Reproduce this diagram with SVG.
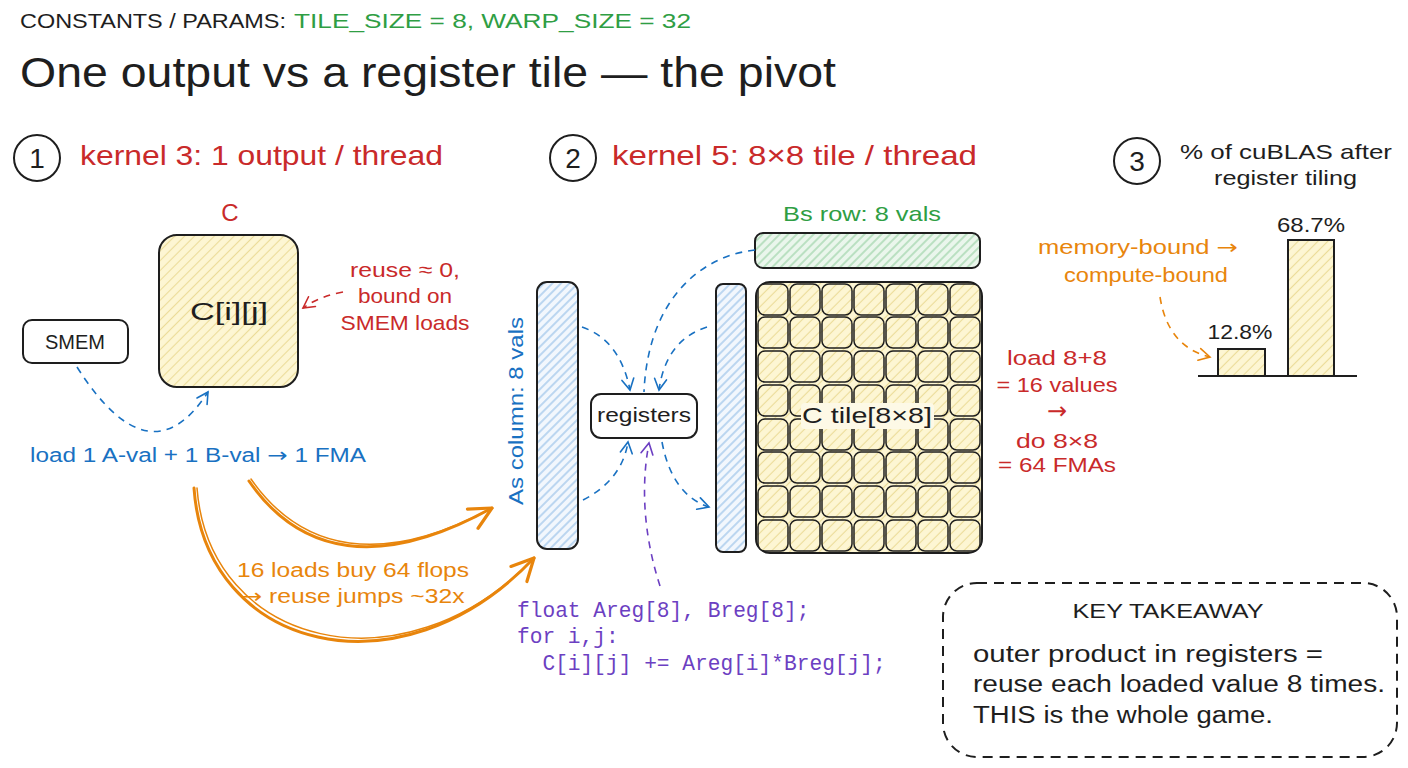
<svg xmlns="http://www.w3.org/2000/svg" width="1408" height="768" viewBox="0 0 1408 768">
<style>
  .t { font-family: "Liberation Sans", Arial, sans-serif; }
  .m { font-family: "Liberation Mono", "DejaVu Sans Mono", monospace; }
  .ar { font-family: "DejaVu Sans", sans-serif; }
  .blk { fill: #1e1e1e; }
  .red { fill: #c92a2a; }
  .blue { fill: #1971c2; }
  .green { fill: #2f9e44; }
  .orange { fill: #e8850c; }
  .purple { fill: #6c3fc2; }
  .box { stroke: #1e1e1e; stroke-width: 2; }
  .dash { fill: none; stroke-width: 1.6; stroke-dasharray: 7 6; }
</style>
<defs>
  <pattern id="hy" patternUnits="userSpaceOnUse" width="7" height="7" patternTransform="rotate(45)">
    <rect width="7" height="7" fill="#fdf6d3"/>
    <line x1="3.5" y1="0" x2="3.5" y2="7" stroke="#ebdc98" stroke-width="1.1"/>
  </pattern>
  <pattern id="hb" patternUnits="userSpaceOnUse" width="6" height="6" patternTransform="rotate(45)">
    <rect width="6" height="6" fill="#f2f7fd"/>
    <line x1="3" y1="0" x2="3" y2="6" stroke="#8fbbe6" stroke-width="1.1"/>
  </pattern>
  <pattern id="hg" patternUnits="userSpaceOnUse" width="6" height="6" patternTransform="rotate(45)">
    <rect width="6" height="6" fill="#eaf6ec"/>
    <line x1="3" y1="0" x2="3" y2="6" stroke="#93cf9f" stroke-width="1.1"/>
  </pattern>
  <marker id="mb" markerUnits="userSpaceOnUse" markerWidth="20" markerHeight="20" refX="0" refY="0" orient="auto" style="overflow:visible">
    <path d="M-11,-6 L0,0 L-11,6" fill="none" stroke="#1971c2" stroke-width="1.6" stroke-linecap="round"/>
  </marker>
  <marker id="mr" markerUnits="userSpaceOnUse" markerWidth="20" markerHeight="20" refX="0" refY="0" orient="auto" style="overflow:visible">
    <path d="M-11,-6 L0,0 L-11,6" fill="none" stroke="#c92a2a" stroke-width="1.6" stroke-linecap="round"/>
  </marker>
  <marker id="mp" markerUnits="userSpaceOnUse" markerWidth="20" markerHeight="20" refX="0" refY="0" orient="auto" style="overflow:visible">
    <path d="M-11,-6 L0,0 L-11,6" fill="none" stroke="#6c3fc2" stroke-width="1.6" stroke-linecap="round"/>
  </marker>
  <marker id="mo" markerUnits="userSpaceOnUse" markerWidth="20" markerHeight="20" refX="0" refY="0" orient="auto" style="overflow:visible">
    <path d="M-11,-6 L0,0 L-11,6" fill="none" stroke="#e8850c" stroke-width="1.6" stroke-linecap="round"/>
  </marker>
  <marker id="mO" markerUnits="userSpaceOnUse" markerWidth="40" markerHeight="40" refX="0" refY="0" orient="auto" style="overflow:visible">
    <path d="M-22,-11 L0,0 L-22,11" fill="none" stroke="#e8850c" stroke-width="3.2" stroke-linecap="round" stroke-linejoin="round"/>
  </marker>
  <rect id="cell" width="30" height="31" rx="7" fill="url(#hy)" stroke="#1e1e1e" stroke-width="1.5"/>
</defs>

<rect width="1408" height="768" fill="#ffffff"/>

<!-- header -->
<g id="header">
  <text class="t blk" x="20" y="28" font-size="20" textLength="266" lengthAdjust="spacingAndGlyphs">CONSTANTS / PARAMS:</text>
  <text class="t green" x="294" y="28" font-size="20" textLength="397" lengthAdjust="spacingAndGlyphs">TILE_SIZE = 8, WARP_SIZE = 32</text>
  <text class="t blk" x="20" y="87" font-size="43" textLength="816" lengthAdjust="spacingAndGlyphs">One output vs a register tile — the pivot</text>
</g>

<!-- section headings -->
<g id="step1">
  <circle cx="37" cy="158" r="23" fill="none" stroke="#1e1e1e" stroke-width="2"/>
  <text class="t blk" x="37" y="168" font-size="28" text-anchor="middle">1</text>
  <text class="t red" x="80" y="165" font-size="28" textLength="363" lengthAdjust="spacingAndGlyphs">kernel 3: 1 output / thread</text>
</g>
<g id="step2">
  <circle cx="573" cy="158" r="23" fill="none" stroke="#1e1e1e" stroke-width="2"/>
  <text class="t blk" x="573" y="168" font-size="28" text-anchor="middle">2</text>
  <text class="t red" x="612" y="165" font-size="28" textLength="365" lengthAdjust="spacingAndGlyphs">kernel 5: 8×8 tile / thread</text>
</g>
<g id="step3">
  <circle cx="1137" cy="161" r="23" fill="none" stroke="#1e1e1e" stroke-width="2"/>
  <text class="t blk" x="1137" y="171" font-size="28" text-anchor="middle">3</text>
  <text class="t blk" x="1180" y="159" font-size="21" textLength="212" lengthAdjust="spacingAndGlyphs">% of cuBLAS after</text>
  <text class="t blk" x="1214" y="185" font-size="21" textLength="143" lengthAdjust="spacingAndGlyphs">register tiling</text>
</g>

<!-- kernel 3 side -->
<g id="c-box">
  <text class="t red" x="230" y="221" font-size="24" text-anchor="middle">C</text>
  <rect class="box" x="159" y="235" width="139" height="152" rx="18" fill="url(#hy)"/>
  <text class="t blk" x="229" y="320" font-size="23" text-anchor="middle" textLength="78" lengthAdjust="spacingAndGlyphs">C[i][j]</text>
</g>
<g id="reuse-note">
  <text class="t red" x="405" y="277" font-size="21" text-anchor="middle" textLength="110" lengthAdjust="spacingAndGlyphs">reuse ≈ 0,</text>
  <text class="t red" x="405" y="303" font-size="21" text-anchor="middle" textLength="94" lengthAdjust="spacingAndGlyphs">bound on</text>
  <text class="t red" x="405" y="330" font-size="21" text-anchor="middle" textLength="129" lengthAdjust="spacingAndGlyphs">SMEM loads</text>
</g>
<g id="smem">
  <rect class="box" x="23" y="320" width="105" height="43" rx="9" fill="#ffffff"/>
  <text class="t blk" x="75" y="349" font-size="20" text-anchor="middle">SMEM</text>
</g>
<g id="load-note">
  <text class="t blue" x="30" y="462" font-size="20" textLength="336" lengthAdjust="spacingAndGlyphs">load 1 A-val + 1 B-val <tspan class="ar">→</tspan> 1 FMA</text>
</g>
<g id="reuse-jump-note">
  <text class="t orange" x="353" y="577" font-size="20" text-anchor="middle" textLength="232" lengthAdjust="spacingAndGlyphs">16 loads buy 64 flops</text>
  <text class="t orange" x="353" y="603" font-size="20" text-anchor="middle" textLength="223" lengthAdjust="spacingAndGlyphs"><tspan class="ar">→</tspan> reuse jumps ~32x</text>
</g>

<!-- kernel 5 side -->
<g id="as-column">
  <rect class="box" x="537" y="282" width="41" height="267" rx="10" fill="url(#hb)"/>
  <text class="t blue" x="0" y="0" font-size="21" text-anchor="middle" textLength="188" lengthAdjust="spacingAndGlyphs" transform="translate(523,411) rotate(-90)">As column: 8 vals</text>
</g>
<g id="registers">
  <rect class="box" x="591" y="394" width="106" height="44" rx="10" fill="#ffffff"/>
  <text class="t blk" x="644" y="422" font-size="21" text-anchor="middle" textLength="94" lengthAdjust="spacingAndGlyphs">registers</text>
</g>
<g id="b-column">
  <rect class="box" x="716" y="284" width="30" height="268" rx="7" fill="url(#hb)"/>
</g>
<g id="bs-row">
  <text class="t green" x="862" y="221" font-size="21" text-anchor="middle" textLength="158" lengthAdjust="spacingAndGlyphs">Bs row: 8 vals</text>
  <rect class="box" x="755" y="233" width="225" height="35" rx="8" fill="url(#hg)"/>
</g>
<g id="c-tile">
  <rect class="box" x="756" y="282" width="226" height="271" rx="14" fill="url(#hy)"/>
  <use href="#cell" x="758" y="284"/><use href="#cell" x="790" y="284"/><use href="#cell" x="822" y="284"/><use href="#cell" x="854" y="284"/><use href="#cell" x="886" y="284"/><use href="#cell" x="918" y="284"/><use href="#cell" x="950" y="284"/>
  <use href="#cell" x="758" y="317"/><use href="#cell" x="790" y="317"/><use href="#cell" x="822" y="317"/><use href="#cell" x="854" y="317"/><use href="#cell" x="886" y="317"/><use href="#cell" x="918" y="317"/><use href="#cell" x="950" y="317"/>
  <use href="#cell" x="758" y="351"/><use href="#cell" x="790" y="351"/><use href="#cell" x="822" y="351"/><use href="#cell" x="854" y="351"/><use href="#cell" x="886" y="351"/><use href="#cell" x="918" y="351"/><use href="#cell" x="950" y="351"/>
  <use href="#cell" x="758" y="385"/><use href="#cell" x="790" y="385"/><use href="#cell" x="822" y="385"/><use href="#cell" x="854" y="385"/><use href="#cell" x="886" y="385"/><use href="#cell" x="918" y="385"/><use href="#cell" x="950" y="385"/>
  <use href="#cell" x="758" y="419"/><use href="#cell" x="790" y="419"/><use href="#cell" x="822" y="419"/><use href="#cell" x="854" y="419"/><use href="#cell" x="886" y="419"/><use href="#cell" x="918" y="419"/><use href="#cell" x="950" y="419"/>
  <use href="#cell" x="758" y="452"/><use href="#cell" x="790" y="452"/><use href="#cell" x="822" y="452"/><use href="#cell" x="854" y="452"/><use href="#cell" x="886" y="452"/><use href="#cell" x="918" y="452"/><use href="#cell" x="950" y="452"/>
  <use href="#cell" x="758" y="486"/><use href="#cell" x="790" y="486"/><use href="#cell" x="822" y="486"/><use href="#cell" x="854" y="486"/><use href="#cell" x="886" y="486"/><use href="#cell" x="918" y="486"/><use href="#cell" x="950" y="486"/>
  <use href="#cell" x="758" y="520"/><use href="#cell" x="790" y="520"/><use href="#cell" x="822" y="520"/><use href="#cell" x="854" y="520"/><use href="#cell" x="886" y="520"/><use href="#cell" x="918" y="520"/><use href="#cell" x="950" y="520"/>
  <rect x="801" y="403" width="133" height="26" rx="4" fill="#fdf9e6"/>
  <text class="t blk" x="867" y="423" font-size="22" text-anchor="middle" textLength="130" lengthAdjust="spacingAndGlyphs">C tile[8×8]</text>
</g>
<g id="tile-note">
  <text class="t red" x="1057" y="365" font-size="21" text-anchor="middle" textLength="100" lengthAdjust="spacingAndGlyphs">load 8+8</text>
  <text class="t red" x="1057" y="392" font-size="21" text-anchor="middle" textLength="121" lengthAdjust="spacingAndGlyphs">= 16 values</text>
  <text class="ar red" x="1057" y="419" font-size="24" text-anchor="middle">→</text>
  <text class="t red" x="1057" y="448" font-size="21" text-anchor="middle" textLength="82" lengthAdjust="spacingAndGlyphs">do 8×8</text>
  <text class="t red" x="1057" y="472" font-size="21" text-anchor="middle" textLength="118" lengthAdjust="spacingAndGlyphs">= 64 FMAs</text>
</g>
<g id="code">
  <text class="m purple" font-size="21.2" xml:space="preserve"><tspan x="517" y="617">float Areg[8], Breg[8];</tspan><tspan x="517" y="643">for i,j:</tspan><tspan x="517" y="670">  C[i][j] += Areg[i]*Breg[j];</tspan></text>
</g>

<!-- chart -->
<g id="chart">
  <line x1="1198" y1="376" x2="1357" y2="376" stroke="#1e1e1e" stroke-width="2"/>
  <rect class="box" x="1218" y="349" width="47" height="27" fill="url(#hy)"/>
  <rect class="box" x="1288" y="240" width="46" height="136" fill="url(#hy)"/>
  <text class="t blk" x="1240" y="339" font-size="21" text-anchor="middle" textLength="65" lengthAdjust="spacingAndGlyphs">12.8%</text>
  <text class="t blk" x="1311" y="232" font-size="21" text-anchor="middle" textLength="68" lengthAdjust="spacingAndGlyphs">68.7%</text>
</g>
<g id="bound-note">
  <text class="t orange" x="1238" y="254" font-size="20" text-anchor="end" textLength="200" lengthAdjust="spacingAndGlyphs">memory-bound <tspan class="ar">→</tspan></text>
  <text class="t orange" x="1228" y="282" font-size="20" text-anchor="end" textLength="164" lengthAdjust="spacingAndGlyphs">compute-bound</text>
</g>

<!-- takeaway -->
<g id="takeaway">
  <rect x="943" y="583" width="454" height="174" rx="34" fill="none" stroke="#1e1e1e" stroke-width="2" stroke-dasharray="10 7"/>
  <text class="t blk" x="1168" y="618" font-size="21" text-anchor="middle" textLength="191" lengthAdjust="spacingAndGlyphs">KEY TAKEAWAY</text>
  <text class="t blk" x="973" y="662" font-size="23" textLength="350" lengthAdjust="spacingAndGlyphs">outer product in registers =</text>
  <text class="t blk" x="973" y="692" font-size="23" textLength="412" lengthAdjust="spacingAndGlyphs">reuse each loaded value 8 times.</text>
  <text class="t blk" x="973" y="723" font-size="23" textLength="300" lengthAdjust="spacingAndGlyphs">THIS is the whole game.</text>
</g>

<!-- connectors -->
<g id="connectors">
  <path class="dash" stroke="#c92a2a" d="M343,292 Q320,296 303,308" marker-end="url(#mr)"/>
  <path class="dash" stroke="#1971c2" d="M77,367 Q150,482 208,392" marker-end="url(#mb)"/>
  <path class="dash" stroke="#1971c2" d="M582,327 Q620,340 630,390" marker-end="url(#mb)"/>
  <path class="dash" stroke="#1971c2" d="M755,250 C700,256 648,300 644,392"/>
  <path class="dash" stroke="#1971c2" d="M707,327 Q666,340 659,390" marker-end="url(#mb)"/>
  <path class="dash" stroke="#1971c2" d="M583,500 Q622,480 628,442" marker-end="url(#mb)"/>
  <path class="dash" stroke="#1971c2" d="M662,442 Q672,495 709,507" marker-end="url(#mb)"/>
  <path class="dash" stroke="#6c3fc2" d="M660,586 C645,540 640,490 649,443" marker-end="url(#mp)"/>
  <path class="dash" stroke="#e8850c" d="M1160,297 Q1168,347 1210,357" marker-end="url(#mo)"/>
  <path d="M249,481 C300,555 380,570 492,508" fill="none" stroke="#e8850c" stroke-width="3" stroke-linecap="round" marker-end="url(#mO)"/>
  <path d="M251,479 C302,552 382,567 492,508" fill="none" stroke="#e8850c" stroke-width="1.5" stroke-linecap="round"/>
  <path d="M194,488 C205,650 400,700 534,558" fill="none" stroke="#e8850c" stroke-width="3" stroke-linecap="round" marker-end="url(#mO)"/>
  <path d="M197,488 C209,646 402,695 534,558" fill="none" stroke="#e8850c" stroke-width="1.5" stroke-linecap="round"/>
</g>
</svg>
